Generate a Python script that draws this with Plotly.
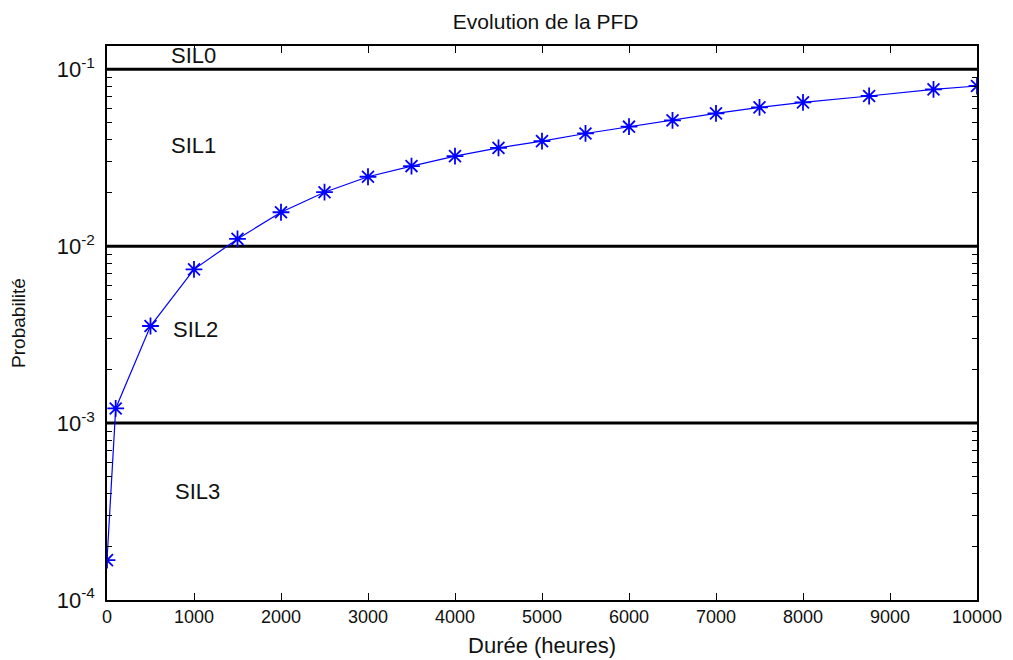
import numpy as np
import plotly.graph_objects as go

# Data
hours = [0, 100, 500, 1000, 1500, 2000, 2500, 3000, 3500, 4000, 4500, 5000,
         5500, 6000, 6500, 7000, 7500, 8000, 8760, 9500, 10000]
pfd = [1.68e-4, 1.21e-3, 3.54e-3, 7.4e-3, 0.0110, 0.01556, 0.0202, 0.0247,
       0.0284, 0.0323, 0.0360, 0.0393, 0.0434, 0.0474, 0.0515, 0.0564,
       0.0610, 0.0651, 0.0707, 0.0771, 0.0805]

sil_limits = [1e-1, 1e-2, 1e-3]
limit_x = [0, 10000]

sil_labels = ["SIL0", "SIL1", "SIL2", "SIL3"]
sil_label_x = [710, 710, 740, 760]
sil_label_y = [0.12, 0.037, 0.0034, 4.1e-4]

x_ticks = list(range(0, 10001, 1000))
x_ticktext = [str(v) for v in x_ticks]
decades = [-4, -3, -2, -1]

FONT = "Liberation Sans"

fig = go.Figure()

for lim in sil_limits:
    fig.add_trace(go.Scatter(x=limit_x, y=[lim, lim], mode="lines",
                             line=dict(color="black", width=3),
                             showlegend=False, hoverinfo="skip"))

fig.add_trace(go.Scatter(x=hours, y=pfd, mode="lines+markers",
                         line=dict(color="#0000ff", width=1.2),
                         marker=dict(symbol="asterisk-open", size=14,
                                     line=dict(color="#0000ff", width=1.8)),
                         showlegend=False))

for t, x, y in zip(sil_labels, sil_label_x, sil_label_y):
    fig.add_annotation(x=x, y=np.log10(y), text=t, showarrow=False,
                       xanchor="left", yanchor="middle",
                       font=dict(family=FONT, size=22, color="#111111"))

# log ticks: decades labelled, minor ticks 2..9 per decade
major_vals = [10.0 ** d for d in decades]
major_text = [f"10<sup>{d}</sup>" for d in decades]
minor_vals = [m * 10.0 ** d for d in decades for m in range(2, 10)
              if m * 10.0 ** d < 0.136]

# page body has an 8px margin: figure drawn from (8, 8)
fig.update_layout(
    width=1005, height=652,
    margin=dict(l=99, r=36, t=38, b=60, autoexpand=False),
    paper_bgcolor="white", plot_bgcolor="white",
    title=dict(text="Evolution de la PFD", x=0.535, xanchor="center",
               y=1 - 14 / 652, yanchor="middle", yref="container",
               font=dict(family=FONT, size=21, color="#111111")),
    xaxis=dict(range=[0, 10000], tickvals=x_ticks, ticktext=x_ticktext,
               automargin=False,
               ticks="inside", ticklen=7, tickwidth=1, tickcolor="black",
               showline=True, linecolor="black", linewidth=1.5, mirror="ticks",
               showgrid=False, zeroline=False,
               tickfont=dict(family=FONT, size=18, color="#111111"),
               title=dict(text="Durée (heures)", standoff=11,
                          font=dict(family=FONT, size=22, color="#111111"))),
    yaxis=dict(type="log", range=[-4, -0.868], automargin=False,
               tickvals=major_vals, ticktext=major_text,
               ticks="inside", ticklen=6, tickwidth=1, tickcolor="black",
               minor=dict(tickvals=minor_vals, ticks="inside", ticklen=5,
                          tickwidth=1, tickcolor="black", showgrid=False),
               showline=True, linecolor="black", linewidth=1.5, mirror="ticks",
               showgrid=False, zeroline=False, ticklabelstandoff=6,
               tickfont=dict(family=FONT, size=22, color="#111111"),
               title=dict(text="Probabilité", standoff=26,
                          font=dict(family=FONT, size=19, color="#111111"))),
)

fig.write_html("out.html")
